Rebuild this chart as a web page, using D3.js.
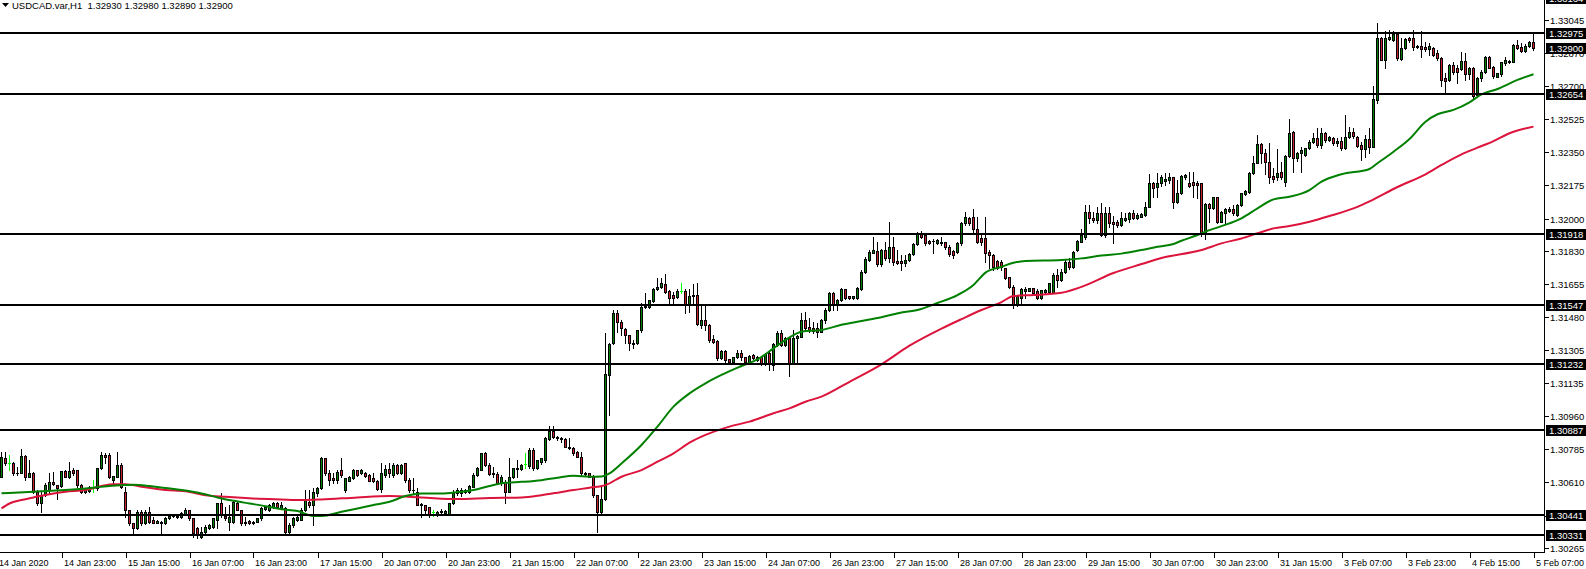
<!DOCTYPE html>
<html><head><meta charset="utf-8">
<script src="https://cdn.jsdelivr.net/npm/d3@7"></script>
<style>
body{margin:0;background:#fff;}
svg{display:block;}
text{font-family:"Liberation Sans",Arial,sans-serif;}
</style>
</head><body>
<svg id="chart" width="1586" height="569"></svg>
<script>
const chartTitle = "USDCAD.var,H1  1.32930 1.32980 1.32890 1.32900";

const openPrices = [
1.30640,1.30740,1.30713,1.30710,1.30657,1.30662,1.30749,1.30640,1.30661,1.30561,
1.30499,1.30543,1.30570,1.30613,1.30596,1.30590,1.30670,1.30640,1.30675,1.30675,
1.30596,1.30561,1.30563,1.30587,1.30578,1.30684,1.30754,1.30754,1.30622,1.30640,
1.30701,1.30560,1.30464,1.30394,1.30368,1.30455,1.30394,1.30455,1.30412,1.30398,
1.30403,1.30394,1.30420,1.30434,1.30433,1.30426,1.30443,1.30464,1.30420,1.30368,
1.30324,1.30350,1.30368,1.30376,1.30412,1.30499,1.30433,1.30403,1.30403,1.30504,
1.30464,1.30403,1.30405,1.30394,1.30403,1.30420,1.30468,1.30464,1.30482,1.30499,
1.30473,1.30473,1.30350,1.30385,1.30412,1.30412,1.30464,1.30508,1.30491,1.30552,
1.30578,1.30736,1.30657,1.30631,1.30622,1.30675,1.30570,1.30620,1.30631,1.30675,
1.30657,1.30661,1.30649,1.30631,1.30619,1.30575,1.30649,1.30680,1.30649,1.30701,
1.30657,1.30710,1.30622,1.30570,1.30561,1.30496,1.30491,1.30478,1.30455,1.30438,
1.30461,1.30451,1.30443,1.30499,1.30570,1.30552,1.30570,1.30561,1.30587,1.30649,
1.30678,1.30763,1.30701,1.30657,1.30654,1.30609,1.30613,1.30561,1.30640,1.30684,
1.30680,1.30705,1.30697,1.30780,1.30684,1.30720,1.30728,1.30837,1.30882,1.30851,
1.30842,1.30837,1.30798,1.30789,1.30772,1.30745,1.30661,1.30657,1.30640,1.30543,
1.30455,1.30521,1.31176,1.31342,1.31501,1.31457,1.31416,1.31386,1.31346,1.31342,
1.31413,1.31536,1.31536,1.31567,1.31627,1.31638,1.31655,1.31620,1.31597,1.31588,
1.31620,1.31620,1.31545,1.31597,1.31597,1.31439,1.31465,1.31439,1.31364,1.31356,
1.31264,1.31302,1.31258,1.31246,1.31269,1.31293,1.31269,1.31246,1.31281,1.31255,
1.31272,1.31234,1.31290,1.31228,1.31333,1.31395,1.31333,1.31373,1.31240,1.31369,
1.31377,1.31465,1.31430,1.31421,1.31421,1.31404,1.31465,1.31518,1.31606,1.31544,
1.31571,1.31627,1.31590,1.31579,1.31579,1.31628,1.31720,1.31781,1.31820,1.31829,
1.31760,1.31834,1.31790,1.31852,1.31777,1.31777,1.31764,1.31781,1.31813,1.31864,
1.31925,1.31913,1.31883,1.31883,1.31869,1.31878,1.31874,1.31852,1.31830,1.31825,
1.31869,1.31974,1.32003,1.32006,1.31943,1.31895,1.31895,1.31825,1.31808,1.31778,
1.31773,1.31737,1.31690,1.31641,1.31544,1.31579,1.31620,1.31620,1.31632,1.31620,
1.31579,1.31615,1.31615,1.31610,1.31702,1.31676,1.31720,1.31770,1.31745,1.31834,
1.31878,1.31901,1.32036,1.32001,1.31992,1.32027,1.31913,1.32027,1.31983,1.31983,
1.31966,1.31990,1.31995,1.32031,1.32001,1.32010,1.32018,1.32062,1.32185,1.32164,
1.32189,1.32196,1.32203,1.32217,1.32088,1.32136,1.32217,1.32189,1.32194,1.32189,
1.32185,1.31925,1.32076,1.32053,1.32111,1.31983,1.32031,1.32041,1.32048,1.32018,
1.32071,1.32129,1.32141,1.32241,1.32294,1.32392,1.32343,1.32299,1.32224,1.32220,
1.32247,1.32194,1.32329,1.32457,1.32317,1.32343,1.32334,1.32369,1.32405,1.32422,
1.32387,1.32448,1.32413,1.32422,1.32396,1.32408,1.32370,1.32431,1.32454,1.32431,
1.32387,1.32366,1.32419,1.32379,1.32624,1.32949,1.32835,1.32944,1.32940,1.32970,
1.32839,1.32896,1.32953,1.32953,1.32905,1.32910,1.32905,1.32893,1.32900,1.32870,
1.32844,1.32738,1.32730,1.32809,1.32795,1.32788,1.32830,1.32759,1.32795,1.32651,
1.32742,1.32770,1.32853,1.32800,1.32747,1.32759,1.32817,1.32823,1.32826,1.32914,
1.32905,1.32882,1.32910,1.32930];

const highPrices = [
1.30772,1.30772,1.30754,1.30719,1.30692,1.30784,1.30752,1.30728,1.30666,1.30570,
1.30561,1.30605,1.30657,1.30666,1.30598,1.30672,1.30675,1.30715,1.30684,1.30677,
1.30600,1.30575,1.30590,1.30622,1.30686,1.30772,1.30763,1.30763,1.30645,1.30772,
1.30710,1.30587,1.30466,1.30396,1.30464,1.30464,1.30464,1.30482,1.30429,1.30412,
1.30405,1.30429,1.30436,1.30438,1.30436,1.30455,1.30473,1.30466,1.30422,1.30376,
1.30376,1.30385,1.30390,1.30420,1.30499,1.30552,1.30482,1.30491,1.30517,1.30508,
1.30466,1.30429,1.30410,1.30405,1.30425,1.30482,1.30485,1.30495,1.30508,1.30508,
1.30508,1.30482,1.30394,1.30429,1.30438,1.30473,1.30570,1.30570,1.30578,1.30587,
1.30745,1.30740,1.30675,1.30657,1.30675,1.30736,1.30635,1.30645,1.30680,1.30678,
1.30680,1.30666,1.30652,1.30657,1.30622,1.30710,1.30701,1.30710,1.30710,1.30705,
1.30705,1.30713,1.30631,1.30631,1.30578,1.30499,1.30493,1.30480,1.30464,1.30458,
1.30468,1.30466,1.30503,1.30570,1.30578,1.30578,1.30574,1.30596,1.30657,1.30692,
1.30767,1.30772,1.30710,1.30692,1.30666,1.30649,1.30622,1.30736,1.30686,1.30728,
1.30705,1.30763,1.30789,1.30789,1.30730,1.30740,1.30851,1.30907,1.30907,1.30855,
1.30851,1.30842,1.30842,1.30798,1.30774,1.30772,1.30666,1.30660,1.30649,1.30546,
1.30587,1.31399,1.31342,1.31518,1.31518,1.31465,1.31421,1.31389,1.31360,1.31415,
1.31553,1.31609,1.31573,1.31632,1.31685,1.31685,1.31708,1.31623,1.31615,1.31627,
1.31659,1.31627,1.31627,1.31655,1.31659,1.31544,1.31544,1.31442,1.31386,1.31360,
1.31305,1.31305,1.31262,1.31272,1.31307,1.31307,1.31272,1.31279,1.31285,1.31275,
1.31275,1.31290,1.31298,1.31342,1.31408,1.31413,1.31375,1.31376,1.31413,1.31386,
1.31504,1.31509,1.31474,1.31457,1.31448,1.31470,1.31527,1.31615,1.31615,1.31575,
1.31632,1.31628,1.31593,1.31592,1.31641,1.31729,1.31799,1.31834,1.31904,1.31878,
1.31838,1.31878,1.31983,1.31904,1.31834,1.31808,1.31808,1.31818,1.31869,1.31931,
1.31936,1.31922,1.31887,1.31890,1.31890,1.31904,1.31878,1.31860,1.31834,1.31878,
1.31983,1.32036,1.32010,1.32048,1.32010,1.31913,1.32010,1.31834,1.31811,1.31781,
1.31781,1.31740,1.31694,1.31650,1.31595,1.31632,1.31637,1.31634,1.31635,1.31630,
1.31625,1.31627,1.31662,1.31711,1.31732,1.31735,1.31780,1.31790,1.31830,1.31887,
1.31943,1.32071,1.32071,1.32036,1.32062,1.32083,1.32062,1.32062,1.32013,1.31992,
1.32036,1.32027,1.32036,1.32045,1.32027,1.32027,1.32088,1.32234,1.32194,1.32238,
1.32229,1.32238,1.32241,1.32220,1.32203,1.32229,1.32232,1.32247,1.32247,1.32199,
1.32189,1.32080,1.32080,1.32115,1.32115,1.32040,1.32053,1.32062,1.32071,1.32075,
1.32136,1.32150,1.32247,1.32329,1.32440,1.32399,1.32364,1.32399,1.32264,1.32364,
1.32299,1.32334,1.32522,1.32460,1.32352,1.32378,1.32372,1.32413,1.32448,1.32475,
1.32475,1.32457,1.32432,1.32431,1.32422,1.32431,1.32545,1.32484,1.32475,1.32436,
1.32405,1.32440,1.32475,1.32700,1.33028,1.32958,1.32988,1.32993,1.32988,1.32975,
1.32949,1.32949,1.32958,1.32993,1.32915,1.32988,1.32932,1.32923,1.32905,1.32888,
1.32853,1.32765,1.32812,1.32826,1.32809,1.32875,1.32870,1.32800,1.32800,1.32747,
1.32782,1.32858,1.32858,1.32805,1.32768,1.32826,1.32853,1.32833,1.32917,1.32940,
1.32923,1.32920,1.32935,1.32980];

const lowPrices = [
1.30636,1.30701,1.30675,1.30649,1.30649,1.30660,1.30622,1.30638,1.30552,1.30491,
1.30455,1.30538,1.30552,1.30596,1.30521,1.30585,1.30638,1.30631,1.30649,1.30587,
1.30556,1.30555,1.30560,1.30561,1.30570,1.30680,1.30710,1.30631,1.30605,1.30638,
1.30578,1.30429,1.30385,1.30341,1.30366,1.30385,1.30392,1.30394,1.30394,1.30394,
1.30341,1.30392,1.30418,1.30430,1.30425,1.30420,1.30438,1.30412,1.30324,1.30315,
1.30315,1.30341,1.30365,1.30368,1.30368,1.30429,1.30412,1.30359,1.30394,1.30464,
1.30385,1.30385,1.30390,1.30390,1.30400,1.30412,1.30464,1.30460,1.30473,1.30473,
1.30469,1.30341,1.30333,1.30376,1.30405,1.30410,1.30460,1.30482,1.30385,1.30540,
1.30575,1.30649,1.30596,1.30605,1.30605,1.30640,1.30561,1.30615,1.30628,1.30645,
1.30655,1.30640,1.30615,1.30613,1.30570,1.30561,1.30640,1.30640,1.30640,1.30655,
1.30655,1.30613,1.30561,1.30552,1.30489,1.30429,1.30438,1.30429,1.30433,1.30435,
1.30443,1.30440,1.30441,1.30495,1.30543,1.30539,1.30555,1.30556,1.30585,1.30644,
1.30675,1.30697,1.30649,1.30640,1.30605,1.30596,1.30499,1.30558,1.30631,1.30640,
1.30678,1.30684,1.30684,1.30675,1.30680,1.30705,1.30719,1.30833,1.30842,1.30833,
1.30824,1.30794,1.30785,1.30754,1.30742,1.30649,1.30649,1.30638,1.30534,1.30350,
1.30447,1.30517,1.30965,1.31340,1.31404,1.31386,1.31342,1.31307,1.31316,1.31338,
1.31404,1.31527,1.31527,1.31562,1.31623,1.31632,1.31606,1.31550,1.31553,1.31580,
1.31606,1.31504,1.31509,1.31545,1.31439,1.31421,1.31413,1.31351,1.31342,1.31255,
1.31260,1.31237,1.31245,1.31240,1.31267,1.31255,1.31243,1.31242,1.31260,1.31250,
1.31230,1.31230,1.31202,1.31202,1.31328,1.31328,1.31330,1.31170,1.31237,1.31237,
1.31375,1.31413,1.31404,1.31395,1.31378,1.31400,1.31450,1.31515,1.31518,1.31518,
1.31568,1.31574,1.31577,1.31575,1.31577,1.31623,1.31711,1.31778,1.31816,1.31750,
1.31750,1.31781,1.31773,1.31755,1.31760,1.31729,1.31750,1.31778,1.31808,1.31860,
1.31895,1.31860,1.31865,1.31820,1.31865,1.31860,1.31838,1.31803,1.31790,1.31816,
1.31860,1.31966,1.31966,1.31931,1.31869,1.31860,1.31773,1.31737,1.31729,1.31735,
1.31729,1.31680,1.31632,1.31527,1.31540,1.31553,1.31579,1.31617,1.31603,1.31577,
1.31575,1.31606,1.31610,1.31606,1.31637,1.31670,1.31712,1.31735,1.31740,1.31830,
1.31875,1.31890,1.31978,1.31983,1.31978,1.31908,1.31901,1.31957,1.31873,1.31957,
1.31960,1.31985,1.31983,1.31995,1.31995,1.32008,1.32013,1.32059,1.32115,1.32111,
1.32171,1.32176,1.32189,1.32053,1.32083,1.32129,1.32210,1.32164,1.32111,1.32106,
1.31908,1.31890,1.31983,1.32050,1.31974,1.31980,1.31978,1.32036,1.32018,1.32015,
1.32068,1.32125,1.32136,1.32234,1.32290,1.32294,1.32234,1.32189,1.32194,1.32203,
1.32206,1.32171,1.32326,1.32247,1.32305,1.32247,1.32330,1.32364,1.32399,1.32378,
1.32369,1.32405,1.32410,1.32387,1.32384,1.32361,1.32366,1.32426,1.32422,1.32379,
1.32308,1.32326,1.32343,1.32376,1.32607,1.32833,1.32795,1.32940,1.32935,1.32835,
1.32835,1.32893,1.32932,1.32888,1.32900,1.32853,1.32882,1.32861,1.32858,1.32835,
1.32700,1.32654,1.32724,1.32759,1.32712,1.32782,1.32730,1.32735,1.32630,1.32642,
1.32724,1.32765,1.32791,1.32742,1.32745,1.32752,1.32809,1.32820,1.32823,1.32893,
1.32875,1.32878,1.32905,1.32890];

const closePrices = [
1.30745,1.30710,1.30713,1.30657,1.30662,1.30749,1.30640,1.30661,1.30561,1.30499,
1.30543,1.30596,1.30613,1.30601,1.30578,1.30670,1.30640,1.30670,1.30657,1.30596,
1.30561,1.30574,1.30585,1.30587,1.30684,1.30754,1.30745,1.30640,1.30643,1.30701,
1.30587,1.30464,1.30394,1.30368,1.30455,1.30394,1.30455,1.30403,1.30398,1.30407,
1.30394,1.30420,1.30433,1.30431,1.30426,1.30447,1.30464,1.30420,1.30345,1.30333,
1.30350,1.30376,1.30385,1.30420,1.30499,1.30438,1.30420,1.30429,1.30508,1.30464,
1.30394,1.30394,1.30394,1.30403,1.30420,1.30473,1.30482,1.30491,1.30499,1.30482,
1.30491,1.30350,1.30385,1.30420,1.30429,1.30464,1.30517,1.30491,1.30561,1.30578,
1.30736,1.30657,1.30622,1.30622,1.30666,1.30649,1.30631,1.30640,1.30675,1.30649,
1.30675,1.30645,1.30619,1.30619,1.30575,1.30657,1.30680,1.30657,1.30701,1.30657,
1.30701,1.30622,1.30570,1.30568,1.30491,1.30491,1.30464,1.30438,1.30455,1.30455,
1.30455,1.30460,1.30499,1.30552,1.30552,1.30570,1.30557,1.30590,1.30649,1.30684,
1.30763,1.30701,1.30654,1.30654,1.30609,1.30640,1.30561,1.30640,1.30684,1.30680,
1.30701,1.30705,1.30780,1.30684,1.30728,1.30736,1.30842,1.30882,1.30851,1.30842,
1.30837,1.30798,1.30789,1.30767,1.30745,1.30657,1.30654,1.30640,1.30543,1.30455,
1.30521,1.31179,1.31340,1.31501,1.31457,1.31421,1.31386,1.31342,1.31339,1.31413,
1.31536,1.31538,1.31571,1.31627,1.31641,1.31659,1.31615,1.31580,1.31580,1.31620,
1.31620,1.31545,1.31592,1.31592,1.31444,1.31465,1.31439,1.31360,1.31351,1.31264,
1.31302,1.31255,1.31246,1.31269,1.31293,1.31269,1.31246,1.31276,1.31264,1.31272,
1.31234,1.31286,1.31237,1.31337,1.31395,1.31333,1.31373,1.31240,1.31373,1.31381,
1.31465,1.31421,1.31413,1.31409,1.31404,1.31465,1.31518,1.31606,1.31544,1.31571,
1.31627,1.31579,1.31579,1.31590,1.31632,1.31720,1.31785,1.31825,1.31834,1.31760,
1.31834,1.31790,1.31852,1.31773,1.31768,1.31768,1.31781,1.31813,1.31864,1.31925,
1.31904,1.31869,1.31869,1.31880,1.31887,1.31869,1.31848,1.31813,1.31808,1.31873,
1.31974,1.32006,1.31976,1.31943,1.31878,1.31878,1.31820,1.31808,1.31746,1.31737,
1.31746,1.31685,1.31641,1.31544,1.31592,1.31627,1.31627,1.31632,1.31606,1.31579,
1.31623,1.31623,1.31658,1.31702,1.31676,1.31720,1.31770,1.31745,1.31825,1.31883,
1.31913,1.32036,1.32001,1.31992,1.32027,1.31913,1.32027,1.31974,1.31971,1.31966,
1.32001,1.32003,1.32031,1.32001,1.32018,1.32024,1.32059,1.32185,1.32159,1.32189,
1.32217,1.32210,1.32217,1.32088,1.32136,1.32224,1.32229,1.32171,1.32176,1.32176,
1.31925,1.32076,1.32053,1.32111,1.31983,1.32036,1.32048,1.32048,1.32027,1.32071,
1.32132,1.32146,1.32241,1.32294,1.32392,1.32343,1.32299,1.32217,1.32206,1.32241,
1.32217,1.32329,1.32452,1.32317,1.32343,1.32361,1.32369,1.32405,1.32422,1.32387,
1.32448,1.32413,1.32427,1.32396,1.32408,1.32370,1.32431,1.32454,1.32436,1.32384,
1.32366,1.32419,1.32379,1.32630,1.32949,1.32835,1.32953,1.32958,1.32970,1.32847,
1.32900,1.32946,1.32940,1.32905,1.32910,1.32891,1.32891,1.32910,1.32861,1.32844,
1.32730,1.32724,1.32809,1.32770,1.32770,1.32830,1.32759,1.32795,1.32647,1.32742,
1.32770,1.32853,1.32795,1.32752,1.32765,1.32823,1.32835,1.32830,1.32914,1.32896,
1.32882,1.32910,1.32930,1.32900];

// moving averages (bar index, value)
const maFastBars = [0,8,16,21,27,31,33,37,41,45,50,54,58,62,66,70,74,78,80,85,89,93,97,101,105,110,114,118,122,126,130,135,139,143,147,150,152,155,160,164,168,172,176,180,185,189,193,197,200,205,210,215,220,225,229,234,239,243,246,250,253,256,265,270,275,280,285,289,293,295,299,301,305,310,314,318,322,327,330,335,342,344,348,352,356,359,363,367,370,374,379,383];
const maFastValues = [1.30553,1.30561,1.30570,1.30578,1.30591,1.30596,1.30598,1.30591,1.30580,1.30570,1.30552,1.30531,1.30513,1.30499,1.30485,1.30469,1.30459,1.30433,1.30433,1.30455,1.30473,1.30491,1.30508,1.30538,1.30552,1.30552,1.30559,1.30570,1.30591,1.30608,1.30613,1.30622,1.30635,1.30645,1.30640,1.30641,1.30658,1.30710,1.30807,1.30904,1.31009,1.31079,1.31132,1.31176,1.31223,1.31258,1.31316,1.31374,1.31404,1.31413,1.31440,1.31460,1.31480,1.31505,1.31518,1.31555,1.31597,1.31650,1.31715,1.31746,1.31767,1.31776,1.31781,1.31790,1.31805,1.31815,1.31834,1.31851,1.31866,1.31883,1.31913,1.31931,1.31960,1.32001,1.32053,1.32101,1.32115,1.32150,1.32194,1.32233,1.32261,1.32291,1.32352,1.32419,1.32510,1.32549,1.32572,1.32612,1.32654,1.32682,1.32730,1.32760];
const maSlowBars = [0,2,5,8,12,16,21,25,28,31,35,41,46,51,56,62,70,75,80,89,97,105,114,122,130,135,139,143,147,151,155,160,164,168,172,176,182,187,193,197,201,205,212,220,227,235,240,245,250,253,258,265,270,278,285,290,300,305,310,314,318,322,327,332,339,342,349,356,360,365,369,373,377,383];
const maSlowValues = [1.30473,1.30499,1.30517,1.30531,1.30548,1.30561,1.30570,1.30591,1.30601,1.30601,1.30587,1.30570,1.30563,1.30543,1.30534,1.30526,1.30520,1.30517,1.30520,1.30531,1.30538,1.30531,1.30522,1.30528,1.30531,1.30543,1.30556,1.30570,1.30582,1.30596,1.30640,1.30675,1.30719,1.30763,1.30819,1.30860,1.30904,1.30930,1.30974,1.31000,1.31035,1.31062,1.31140,1.31232,1.31330,1.31420,1.31470,1.31518,1.31560,1.31592,1.31597,1.31609,1.31640,1.31713,1.31760,1.31792,1.31834,1.31869,1.31895,1.31922,1.31948,1.31960,1.31983,1.32013,1.32061,1.32090,1.32166,1.32233,1.32282,1.32338,1.32373,1.32408,1.32449,1.32484];

const levelPrices = [1.32975,1.32654,1.31918,1.31547,1.31232,1.30887,1.30441,1.30331];
const currentBid = 1.32900;
const topBoxPrice = 1.33164;
const priceTicks = [1.33045,1.32870,1.32700,1.32525,1.32350,1.32175,1.32000,1.31830,1.31655,1.31480,1.31305,1.31135,1.30960,1.30785,1.30610,1.30435,1.30265];
const timeLabels = ["14 Jan 2020","14 Jan 23:00","15 Jan 15:00","16 Jan 07:00","16 Jan 23:00","17 Jan 15:00","20 Jan 07:00","20 Jan 23:00","21 Jan 15:00","22 Jan 07:00","22 Jan 23:00","23 Jan 15:00","24 Jan 07:00","26 Jan 23:00","27 Jan 15:00","28 Jan 07:00","28 Jan 23:00","29 Jan 15:00","30 Jan 07:00","30 Jan 23:00","31 Jan 15:00","3 Feb 07:00","3 Feb 23:00","4 Feb 15:00","5 Feb 07:00"];
const barsPerTimeLabel = 16;

// ---------- drawing ----------
const svg = d3.select("#chart");
const PR = 1544, PB = 552;
const N = closePrices.length;
const x = d3.scaleLinear().domain([0, N - 1]).range([1.5, 1533.5]);
const y = d3.scaleLinear().domain([1.302435, 1.331509]).range([PB, 0]);
const BULL = "#008000", BEAR = "#c8202d", DOJI = "#00ff00";

svg.append("rect").attr("width", 1586).attr("height", 569).attr("fill", "#fff");
svg.append("defs").append("clipPath").attr("id", "plotClip")
  .append("rect").attr("x", 0).attr("y", 0).attr("width", PR).attr("height", PB);
const plot = svg.append("g").attr("clip-path", "url(#plotClip)");

// candles
const gC = plot.append("g");
d3.range(N).forEach(i => {
  const o = openPrices[i], h = highPrices[i], l = lowPrices[i], c = closePrices[i];
  const cx = x(i);
  const hi = Math.max(h, o, c), lo = Math.min(l, o, c);
  const yHi = Math.round(y(hi)), yLo = Math.round(y(lo));
  const doji = o === c;
  gC.append("line").attr("x1", cx).attr("x2", cx).attr("y1", yHi).attr("y2", yLo + 1)
    .attr("stroke", doji ? DOJI : "#000").attr("stroke-width", 1);
  const yT = Math.round(y(Math.max(o, c))), yB = Math.round(y(Math.min(o, c)));
  if (doji) {
    gC.append("rect").attr("x", cx - 1.5).attr("y", yT).attr("width", 3).attr("height", 1).attr("fill", DOJI);
    return;
  }
  const hgt = Math.max(1, yB - yT + 1);
  gC.append("rect").attr("x", cx - 1.5).attr("y", yT).attr("width", 3).attr("height", hgt).attr("fill", "#000");
  if (hgt >= 3) {
    gC.append("rect").attr("x", cx - 0.5).attr("y", yT + 1).attr("width", 1).attr("height", hgt - 2)
      .attr("fill", c > o ? BULL : BEAR);
  }
});

// moving averages
const maLine = d3.line().x(d => x(d[0])).y(d => y(d[1])).curve(d3.curveMonotoneX);
plot.append("path").datum(d3.zip(maSlowBars, maSlowValues)).attr("d", maLine)
  .attr("fill", "none").attr("stroke", "#dc143c").attr("stroke-width", 2);
plot.append("path").datum(d3.zip(maFastBars, maFastValues)).attr("d", maLine)
  .attr("fill", "none").attr("stroke", "#008000").attr("stroke-width", 2);

// horizontal levels
levelPrices.forEach(p => {
  const yy = Math.round(y(p));
  plot.append("line").attr("x1", 0).attr("x2", PR).attr("y1", yy).attr("y2", yy)
    .attr("stroke", "#000").attr("stroke-width", 2);
});

// axes frame
svg.append("line").attr("x1", PR + 0.5).attr("x2", PR + 0.5).attr("y1", 0).attr("y2", PB + 1).attr("stroke", "#000");
svg.append("line").attr("x1", 0).attr("x2", PR + 1).attr("y1", PB + 0.5).attr("y2", PB + 0.5).attr("stroke", "#000");

// price ticks
const gY = svg.append("g");
priceTicks.forEach(p => {
  const yy = Math.round(y(p)) + 0.5;
  gY.append("line").attr("x1", PR + 1).attr("x2", PR + 5).attr("y1", yy).attr("y2", yy).attr("stroke", "#000");
  gY.append("text").attr("x", 1550).attr("y", yy).attr("dy", "0.35em")
    .attr("font-size", 9.5).attr("fill", "#000").text(p.toFixed(5));
});
// price boxes
[topBoxPrice, ...levelPrices, currentBid].forEach(p => {
  const yy = Math.round(y(p));
  gY.append("rect").attr("x", 1546).attr("y", yy - 5).attr("width", 40).attr("height", 11).attr("fill", "#000");
  gY.append("text").attr("x", 1549).attr("y", yy + 0.5).attr("dy", "0.35em")
    .attr("font-size", 9.5).attr("fill", "#fff").text(p.toFixed(5));
});

// time axis
const gX = svg.append("g");
timeLabels.forEach((t, k) => {
  const bar = barsPerTimeLabel * k - 1;
  const xx = Math.round(x(bar)) + 0.5;
  gX.append("line").attr("x1", xx).attr("x2", xx).attr("y1", PB + 1).attr("y2", PB + 6).attr("stroke", "#000");
  gX.append("text").attr("x", xx + 1.5).attr("y", 566).attr("font-size", 9).attr("fill", "#000").text(t);
});

// title
svg.append("path").attr("d", "M2,3 L9,3 L5.5,7 Z").attr("fill", "#000");
svg.append("text").attr("x", 12).attr("y", 9).attr("font-size", 9.5).attr("fill", "#000").text(chartTitle)
  .attr("xml:space", "preserve").style("white-space", "pre");
</script>
</body></html>
